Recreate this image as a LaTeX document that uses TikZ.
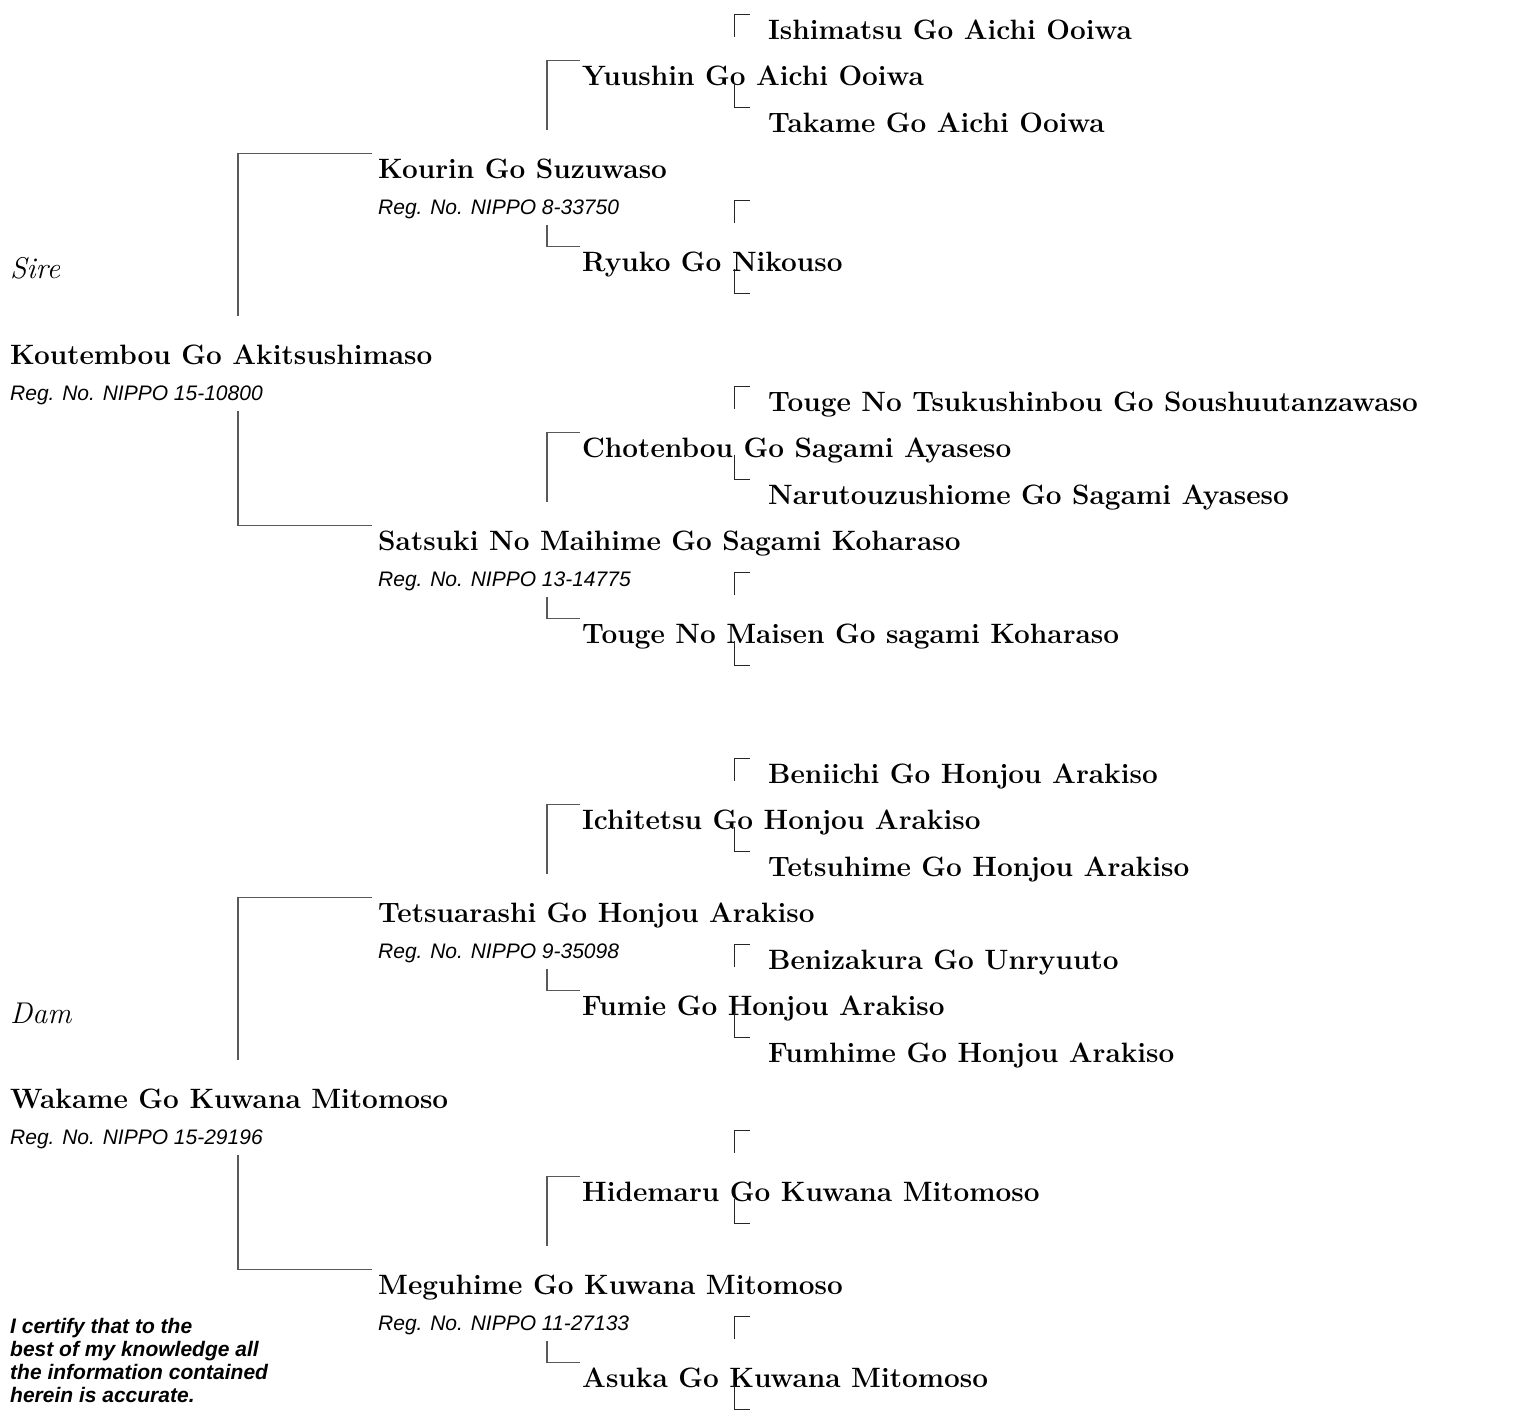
\documentclass[tikz,border=0pt]{standalone}
\usepackage{fontspec}
\newfontfamily\arialfont{Liberation Sans}
\usetikzlibrary{positioning, calc}

\tikzset{
	x=1pt, y=-1pt,
	horse/.style={anchor=base west, inner sep=0pt, font=\fontsize{28}{30}\selectfont\bfseries},
	regno/.style={anchor=base west, inner sep=0pt, font=\fontsize{21}{23}\selectfont\arialfont\itshape},
	side/.style={anchor=base west, inner sep=0pt, font=\fontsize{30}{32}\selectfont\itshape},
	link/.style={draw=black!65, line width=1.2pt}
}

\begin{document}
\begin{tikzpicture}
	\useasboundingbox (0,0) rectangle (1525,1416);

	% sire side
	\node[horse] (ishimatsu) at (768,39) {Ishimatsu Go Aichi Ooiwa};
	\node[horse] (yuushin) at (582,85.5) {Yuushin Go Aichi Ooiwa};
	\node[horse] (takame) at (768,132) {Takame Go Aichi Ooiwa};
	\node[horse] (kourin) at (378,178.5) {Kourin Go Suzuwaso};
	\node[regno] (kourinreg) at ([yshift=-36pt]kourin.base west) {Reg. No. NIPPO 8-33750};
	\coordinate (ryukos) at (768,225);
	\node[horse] (ryuko) at (582,271.5) {Ryuko Go Nikouso};
	\coordinate (ryukod) at (768,318);
	\node[side] (sire) at (10,278) {Sire};
	\node[horse] (koutembou) at (10,364.5) {Koutembou Go Akitsushimaso};
	\node[regno] (koutembooureg) at ([yshift=-36pt]koutembou.base west) {Reg. No. NIPPO 15-10800};
	\node[horse] (tsukushinbou) at (768,411) {Touge No Tsukushinbou Go Soushuutanzawaso};
	\node[horse] (chotenbou) at (582,457.5) {Chotenbou Go Sagami Ayaseso};
	\node[horse] (narutouzushiome) at (768,504) {Narutouzushiome Go Sagami Ayaseso};
	\node[horse] (satsuki) at (378,550.5) {Satsuki No Maihime Go Sagami Koharaso};
	\node[regno] (satsukireg) at ([yshift=-36pt]satsuki.base west) {Reg. No. NIPPO 13-14775};
	\coordinate (maisens) at (768,597);
	\node[horse] (maisen) at (582,643.5) {Touge No Maisen Go sagami Koharaso};
	\coordinate (maisend) at (768,690);

	% dam side
	\node[horse] (beniichi) at (768,783) {Beniichi Go Honjou Arakiso};
	\node[horse] (ichitetsu) at (582,829.5) {Ichitetsu Go Honjou Arakiso};
	\node[horse] (tetsuhime) at (768,876) {Tetsuhime Go Honjou Arakiso};
	\node[horse] (tetsuarashi) at (378,922.5) {Tetsuarashi Go Honjou Arakiso};
	\node[regno] (tetsuarashireg) at ([yshift=-36pt]tetsuarashi.base west) {Reg. No. NIPPO 9-35098};
	\node[horse] (benizakura) at (768,969) {Benizakura Go Unryuuto};
	\node[horse] (fumie) at (582,1015.5) {Fumie Go Honjou Arakiso};
	\node[horse] (fumhime) at (768,1062) {Fumhime Go Honjou Arakiso};
	\node[side] (dam) at (10,1023) {Dam};
	\node[horse] (wakame) at (10,1108.5) {Wakame Go Kuwana Mitomoso};
	\node[regno] (wakamereg) at ([yshift=-36pt]wakame.base west) {Reg. No. NIPPO 15-29196};
	\coordinate (hidemarus) at (768,1155);
	\node[horse] (hidemaru) at (582,1201.5) {Hidemaru Go Kuwana Mitomoso};
	\coordinate (hidemarud) at (768,1248);
	\node[horse] (meguhime) at (378,1294.5) {Meguhime Go Kuwana Mitomoso};
	\node[regno] (meguhimereg) at ([yshift=-36pt]meguhime.base west) {Reg. No. NIPPO 11-27133};
	\coordinate (asukas) at (768,1341);
	\node[horse] (asuka) at (582,1387.5) {Asuka Go Kuwana Mitomoso};
	\coordinate (asukad) at (768,1434);

	\node[anchor=north west, inner sep=0pt, align=left,
		font=\fontsize{21}{23}\selectfont\arialfont\bfseries\itshape]
		(certify) at (10,1318) {I certify that to the\\best of my knowledge all\\the information contained\\herein is accurate.};

	% first generation
	\foreach \p/\a/\b in {koutembou/kourin/satsuki, wakame/tetsuarashi/meguhime}{
		\draw[link] ($(\p.base west)+(228,-49)$) |- ($(\a.base west)+(-6,-25)$);
		\draw[link] ($(\p.base west)+(228,46)$) |- ($(\b.base west)+(-6,-25)$);
	}
	% second generation
	\foreach \p/\a/\b in {kourin/yuushin/ryuko, satsuki/chotenbou/maisen,
		tetsuarashi/ichitetsu/fumie, meguhime/hidemaru/asuka}{
		\draw[link] ($(\p.base west)+(169,-49)$) |- ($(\a.base west)+(-2,-25)$);
		\draw[link] ($(\p.base west)+(169,46)$) |- ($(\b.base west)+(-2,-25)$);
	}
	% third generation
	\foreach \p/\a/\b in {yuushin/ishimatsu.base west/takame.base west,
		ryuko/ryukos/ryukod,
		chotenbou/tsukushinbou.base west/narutouzushiome.base west,
		maisen/maisens/maisend,
		ichitetsu/beniichi.base west/tetsuhime.base west,
		fumie/benizakura.base west/fumhime.base west,
		hidemaru/hidemarus/hidemarud,
		asuka/asukas/asukad}{
		\draw[link, line width=0.9pt, black!85] ($(\p.base west)+(152,-49)$) |- ($(\a)+(-18,-25)$);
		\draw[link, line width=0.9pt, black!85] ($(\p.base west)+(152,-3)$) |- ($(\b)+(-18,-25)$);
	}
\end{tikzpicture}
\end{document}
